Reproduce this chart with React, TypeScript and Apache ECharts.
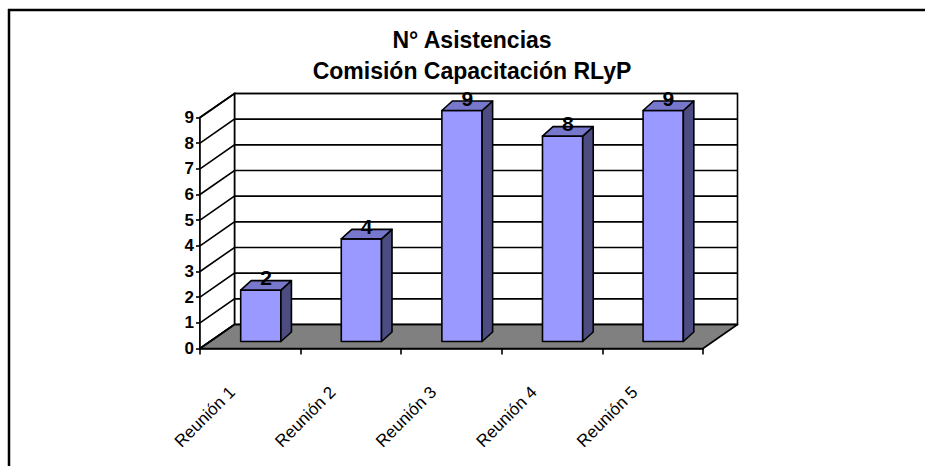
import React, { useEffect, useRef } from "react";
import * as echarts from "echarts";

const titleLines = ["N° Asistencias", "Comisión Capacitación RLyP"];
const categories = ["Reunión 1", "Reunión 2", "Reunión 3", "Reunión 4", "Reunión 5"];
const values = [2, 4, 9, 8, 9];
const yMin = 0;
const yMax = 9;
const yStep = 1;
const yTicks = [0, 1, 2, 3, 4, 5, 6, 7, 8, 9];

const FONT = "'Liberation Sans', Arial, sans-serif";
const DX = 34.5; // depth offset of back wall
const DY = -24;
const BAR_SHIFT_X = 10.5; // bar front face inside the depth
const BAR_SHIFT_Y = -7;
const BAR_DX = 10.5;
const BAR_DY = -9.5;
const LW = 1.6;

export default function App() {
  const ref = useRef<HTMLDivElement>(null);

  useEffect(() => {
    if (!ref.current) return;
    const chart = echarts.init(ref.current, null, { renderer: "svg" });

    const option: any = {
      animation: false,
      backgroundColor: "#ffffff",
      grid: { left: 200, right: 222, top: 117.5, bottom: 117.5, containLabel: false },
      xAxis: {
        type: "category",
        data: categories,
        boundaryGap: true,
        axisLine: { show: true, lineStyle: { color: "#000", width: LW } },
        axisTick: { show: true, length: 6, lineStyle: { color: "#000", width: LW } },
        axisLabel: { show: false },
        splitLine: { show: false },
      },
      yAxis: {
        type: "value",
        min: yMin,
        max: yMax,
        interval: yStep,
        axisLine: { show: true, lineStyle: { color: "#000", width: LW } },
        axisTick: { show: true, length: 4, lineStyle: { color: "#000", width: LW } },
        axisLabel: {
          show: true,
          margin: 6,
          color: "#000",
          fontFamily: FONT,
          fontWeight: "bold",
          fontSize: 17,
        },
        splitLine: { show: false },
      },
      graphic: [
        {
          type: "line",
          shape: { x1: 8, y1: 10, x2: 925, y2: 10 },
          style: { stroke: "#000", lineWidth: 2.5 },
          silent: true,
        },
        {
          type: "line",
          shape: { x1: 9, y1: 9, x2: 9, y2: 466 },
          style: { stroke: "#000", lineWidth: 2.5 },
          silent: true,
        },
        {
          type: "text",
          x: 472,
          y: 40,
          style: {
            text: titleLines[0],
            font: `bold 23px ${FONT}`,
            fill: "#000",
            textAlign: "center",
            textVerticalAlign: "middle",
          },
        },
        {
          type: "text",
          x: 472,
          y: 71,
          style: {
            text: titleLines[1],
            font: `bold 23px ${FONT}`,
            fill: "#000",
            textAlign: "center",
            textVerticalAlign: "middle",
          },
        },
      ],
      series: [
        {
          // walls and floor
          type: "custom",
          z: 1,
          silent: true,
          data: [[0, yMin]],
          encode: { x: 0, y: 1 },
          renderItem: (params: any, api: any) => {
            const cs = params.coordSys;
            const x0 = cs.x;
            const x1 = cs.x + cs.width;
            const yT = cs.y;
            const yB = cs.y + cs.height;
            return {
              type: "group",
              children: [
                {
                  type: "polygon",
                  shape: {
                    points: [
                      [x0 + DX, yT + DY],
                      [x1 + DX, yT + DY],
                      [x1 + DX, yB + DY],
                      [x0 + DX, yB + DY],
                    ],
                  },
                  style: { fill: "#ffffff", stroke: "#000", lineWidth: LW },
                },
                {
                  type: "polygon",
                  shape: {
                    points: [
                      [x0, yT],
                      [x0 + DX, yT + DY],
                      [x0 + DX, yB + DY],
                      [x0, yB],
                    ],
                  },
                  style: { fill: "#ffffff", stroke: "#000", lineWidth: LW },
                },
                {
                  type: "polygon",
                  shape: {
                    points: [
                      [x0, yB],
                      [x1, yB],
                      [x1 + DX, yB + DY],
                      [x0 + DX, yB + DY],
                    ],
                  },
                  style: { fill: "#808080", stroke: "#000", lineWidth: LW, lineJoin: "round" },
                },
              ],
            };
          },
        },
        {
          // gridlines on the left and back walls
          type: "custom",
          z: 2,
          silent: true,
          data: yTicks.map((t) => [0, t]),
          encode: { x: 0, y: 1 },
          renderItem: (params: any, api: any) => {
            const cs = params.coordSys;
            const x0 = cs.x;
            const x1 = cs.x + cs.width;
            const y = api.coord([0, api.value(1)])[1];
            return {
              type: "polyline",
              shape: {
                points: [
                  [x0, y],
                  [x0 + DX, y + DY],
                  [x1 + DX, y + DY],
                ],
              },
              style: { fill: null, stroke: "#000", lineWidth: LW },
            };
          },
        },
        {
          // 3D bars
          type: "custom",
          z: 3,
          data: values.map((v, i) => [i, v]),
          encode: { x: 0, y: 1 },
          renderItem: (params: any, api: any) => {
            const i = api.value(0);
            const v = api.value(1);
            const base = api.coord([i, 0]);
            const top = api.coord([i, v]);
            const band = api.size([1, 0])[0];
            const hw = band * 0.2;
            const cx = base[0] + BAR_SHIFT_X;
            const yb = base[1] + BAR_SHIFT_Y;
            const yt = top[1] + BAR_SHIFT_Y;
            const l = cx - hw;
            const r = cx + hw;
            return {
              type: "group",
              children: [
                {
                  type: "polygon",
                  shape: { points: [[l, yt], [r, yt], [r, yb], [l, yb]] },
                  style: { fill: "#9999FF", stroke: "#000", lineWidth: LW, lineJoin: "round" },
                },
                {
                  type: "polygon",
                  shape: {
                    points: [
                      [r, yt],
                      [r + BAR_DX, yt + BAR_DY],
                      [r + BAR_DX, yb + BAR_DY],
                      [r, yb],
                    ],
                  },
                  style: { fill: "#4C4C80", stroke: "#000", lineWidth: LW, lineJoin: "round" },
                },
                {
                  type: "polygon",
                  shape: {
                    points: [
                      [l, yt],
                      [l + BAR_DX, yt + BAR_DY],
                      [r + BAR_DX, yt + BAR_DY],
                      [r, yt],
                    ],
                  },
                  style: { fill: "#7777CC", stroke: "#000", lineWidth: LW, lineJoin: "round" },
                },
                {
                  type: "text",
                  x: cx + BAR_DX / 2,
                  y: yt + BAR_DY / 2 + 3,
                  style: {
                    text: String(v),
                    font: `bold 21px ${FONT}`,
                    fill: "#000",
                    textAlign: "center",
                    textVerticalAlign: "bottom",
                  },
                },
              ],
            };
          },
        },
        {
          // rotated category labels
          type: "custom",
          z: 3,
          silent: true,
          data: categories.map((c, i) => [i, yMin]),
          encode: { x: 0, y: 1 },
          renderItem: (params: any, api: any) => {
            const i = api.value(0);
            const p = api.coord([i, 0]);
            return {
              type: "text",
              x: p[0] - 18,
              y: p[1] + 41,
              rotation: Math.PI / 4,
              style: {
                text: categories[i],
                font: `17px ${FONT}`,
                fill: "#000",
                textAlign: "right",
                textVerticalAlign: "middle",
              },
            };
          },
        },
      ],
    };

    chart.setOption(option);
    return () => chart.dispose();
  }, []);

  return (
    <div
      ref={ref}
      style={{ position: "fixed", left: 0, top: 0, width: 925, height: 466, background: "#fff" }}
    />
  );
}
